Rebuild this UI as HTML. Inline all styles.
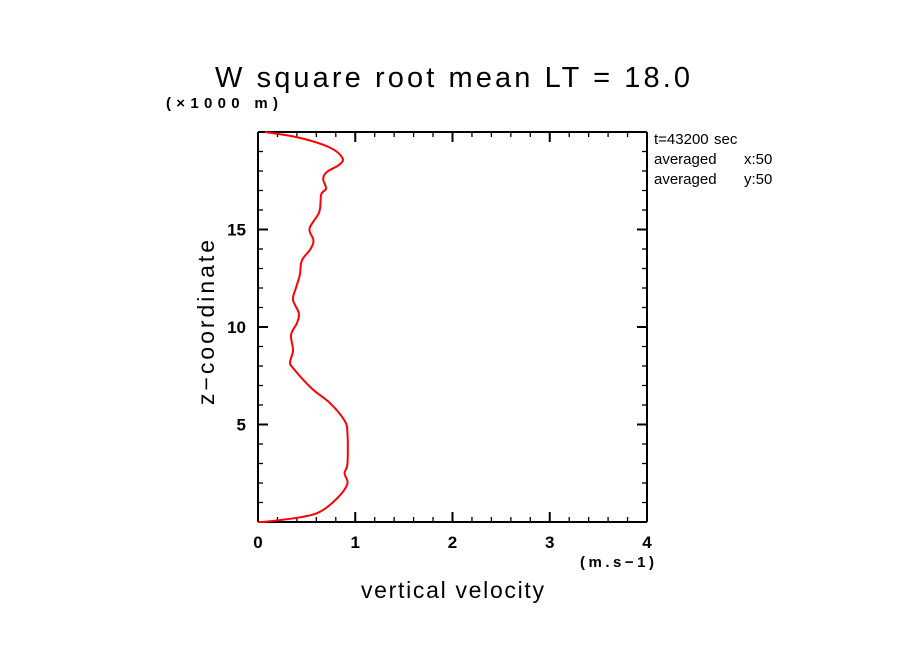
<!DOCTYPE html>
<html><head><meta charset="utf-8"><style>
body{margin:0;background:#fff;}
svg{display:block;font-family:"Liberation Sans",sans-serif;}
</style></head><body>
<svg id="chart" width="904" height="654">
<defs><clipPath id="clipTxt"><rect x="640" y="120" width="136" height="80"/></clipPath></defs>
<text x="215" y="87" font-size="29" textLength="475" lengthAdjust="spacing">W square root mean LT = 18.0</text>
<text x="166" y="108" font-size="15" font-weight="bold" textLength="112" lengthAdjust="spacing">(×1000 m)</text>
<text x="580" y="567" font-size="15" font-weight="bold" textLength="74" lengthAdjust="spacing">(m.s−1)</text>
<text x="361" y="598" font-size="23" textLength="183" lengthAdjust="spacing">vertical velocity</text>
<text transform="translate(214,405) rotate(-90)" font-size="23" textLength="165" lengthAdjust="spacing">z−coordinate</text>
<g clip-path="url(#clipTxt)" font-size="15">
<text x="654" y="144">t=43200</text><text x="714" y="144">sec</text>
<text x="654" y="164">averaged</text><text x="744" y="164">x:50</text>
<text x="654" y="184">averaged</text><text x="744" y="184">y:50</text>
</g>
<g id="axes"></g>
<path id="line" fill="none" stroke="#f00" stroke-width="2"/>
</svg>
<script>
const wValues=[0.0,0.09,0.43,0.64,0.83,0.92,0.89,0.92,0.92,0.89,0.74,0.55,0.36,0.33,0.36,0.34,0.40,0.42,0.36,0.39,0.43,0.45,0.54,0.57,0.53,0.63,0.65,0.70,0.67,0.71,0.83,0.87,0.74,0.43,0.07];
const zValues=[0.0,0.02,0.24,0.53,1.3,1.98,2.5,3.0,4.55,5.2,6.1,6.86,7.9,8.2,8.8,9.6,10.2,10.7,11.4,12.0,12.67,13.4,14.0,14.46,15.05,15.9,16.8,17.1,17.6,17.96,18.3,18.65,19.2,19.7,20.0];
const xTicks=[0,1,2,3,4];
const yTicks=[5,10,15];
const X0=258,X1=647,Y0=522,Y1=132;
const xs=v=>X0+(X1-X0)*v/4;
const ys=v=>Y0-(Y0-Y1)*v/20;
const NS="http://www.w3.org/2000/svg";
const ax=document.getElementById('axes');
function ln(x1,y1,x2,y2,w,name){const l=document.createElementNS(NS,'line');l.setAttribute('x1',x1);l.setAttribute('y1',y1);l.setAttribute('x2',x2);l.setAttribute('y2',y2);l.setAttribute('stroke','#000');l.setAttribute('stroke-width',w);


ax.appendChild(l);}
function tx(x,y,s,anchor,name){const t=document.createElementNS(NS,'text');t.setAttribute('x',x);t.setAttribute('y',y);t.setAttribute('text-anchor',anchor);t.setAttribute('font-size','17');t.setAttribute('font-weight','bold');t.textContent=s;


ax.appendChild(t);}
ln(X0,Y0,X1,Y0,2,'x-axis');ln(X0,Y1,X1,Y1,2,'top-axis');ln(X0,Y0,X0,Y1,2,'y-axis');ln(X1,Y0,X1,Y1,2,'right-axis');
for(let i=0;i<=20;i++){const v=i*0.2;const maj=i%5===0;const L=maj?10:5;
ln(xs(v),Y0,xs(v),Y0-L,maj?2:1.3,'x-tick');ln(xs(v),Y1,xs(v),Y1+L,maj?2:1.3,'x-tick-top');}
for(let i=0;i<=20;i++){const maj=i%5===0;const L=maj?10:5;
ln(X0,ys(i),X0+L,ys(i),maj?2:1.3,'y-tick');ln(X1,ys(i),X1-L,ys(i),maj?2:1.3,'y-tick-right');}
xTicks.forEach(v=>tx(xs(v),548,String(v),'middle','x-tick-label'));
yTicks.forEach(v=>tx(X0-12,ys(v)+6,String(v),'end','y-tick-label'));
const pts=wValues.map((w,i)=>[xs(w),ys(zValues[i])]);
let d='M'+pts[0][0]+','+pts[0][1];
for(let i=0;i<pts.length-1;i++){const p0=pts[Math.max(0,i-1)],p1=pts[i],p2=pts[i+1],p3=pts[Math.min(pts.length-1,i+2)];
const c1=[p1[0]+(p2[0]-p0[0])/6,p1[1]+(p2[1]-p0[1])/6],c2=[p2[0]-(p3[0]-p1[0])/6,p2[1]-(p3[1]-p1[1])/6];
d+=' C'+c1+' '+c2+' '+p2;}
document.getElementById('line').setAttribute('d',d);
</script>
</body></html>
